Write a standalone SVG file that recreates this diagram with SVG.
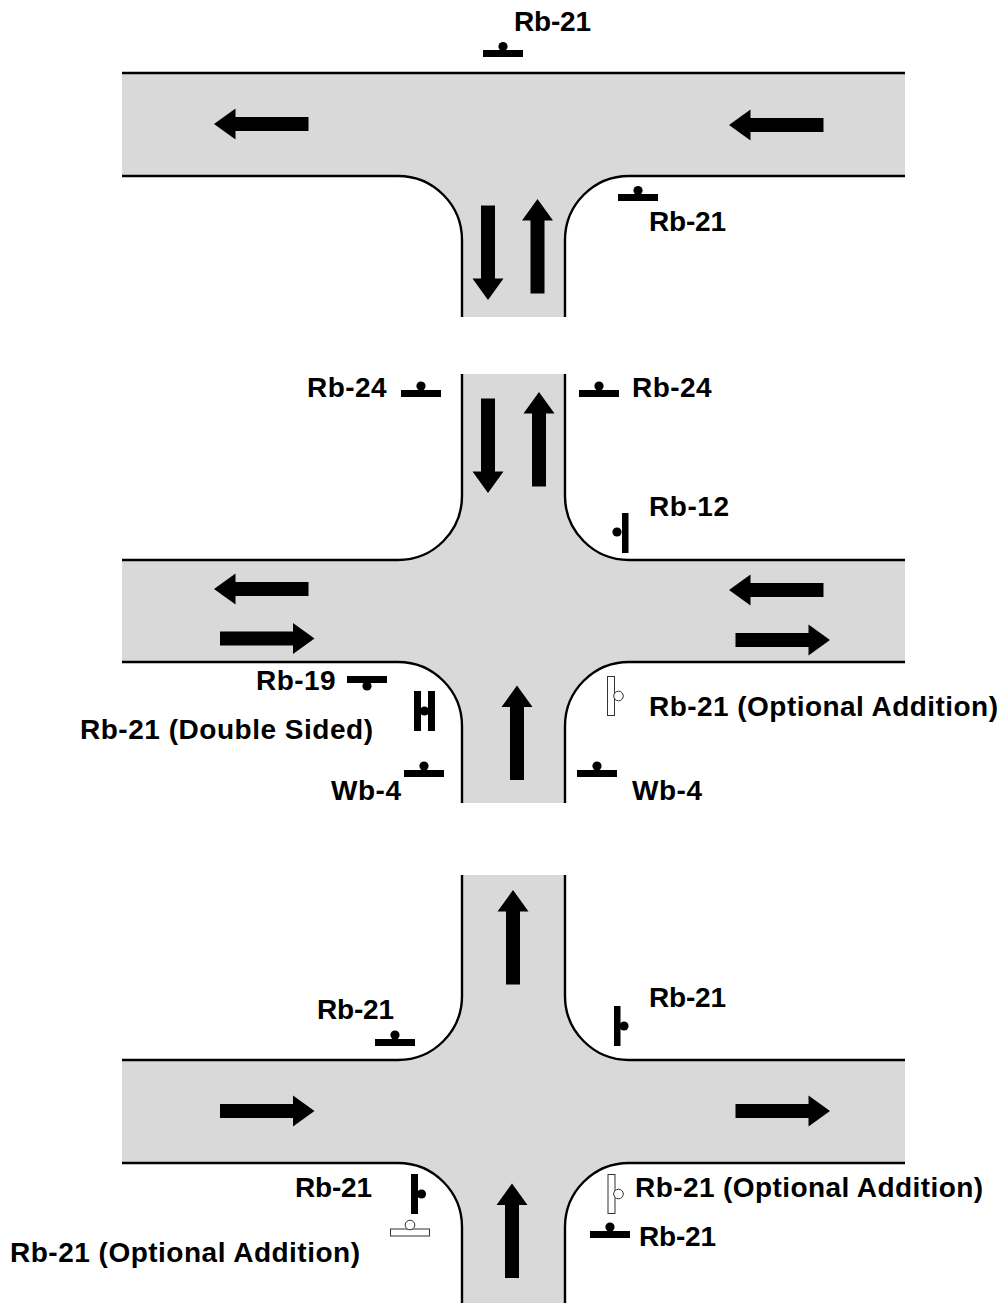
<svg xmlns="http://www.w3.org/2000/svg" width="1005" height="1303" viewBox="0 0 1005 1303">
<style>
.road{fill:#d9d9d9;stroke:none}
.edge{fill:none;stroke:#000;stroke-width:2.4}
.lbl{font-family:"Liberation Sans",Arial,sans-serif;font-weight:bold;font-size:28px;fill:#000}
.s{fill:#000}
.o{fill:#fff;stroke:#333;stroke-width:1}
</style>
<defs>
<path id="arrow" d="M0 0L15.5 21.500H7V94.500H-7V21.500H-15.500Z" fill="#000"/>
</defs>
<rect width="1005" height="1303" fill="#fff"/>
<g id="roads">
<path class="road" d="M122 73H905V176H629A64 64 0 0 0 565 240V317H462V240A64 64 0 0 0 398 176H122Z"/>
<path class="road" d="M462 374H565V496A64 64 0 0 0 629 560H905V662H629A64 64 0 0 0 565 726V803H462V726A64 64 0 0 0 398 662H122V560H398A64 64 0 0 0 462 496Z"/>
<path class="road" d="M462 875H565V996A64 64 0 0 0 629 1060H905V1163H629A64 64 0 0 0 565 1227V1303H462V1227A64 64 0 0 0 398 1163H122V1060H398A64 64 0 0 0 462 996Z"/>
<path class="edge" d="M122 73H905M122 176H398A64 64 0 0 1 462 240V317M905 176H629A64 64 0 0 0 565 240V317"/>
<path class="edge" d="M462 374V496A64 64 0 0 1 398 560H122M565 374V496A64 64 0 0 0 629 560H905M122 662H398A64 64 0 0 1 462 726V803M905 662H629A64 64 0 0 0 565 726V803"/>
<path class="edge" d="M462 875V996A64 64 0 0 1 398 1060H122M565 875V996A64 64 0 0 0 629 1060H905M122 1163H398A64 64 0 0 1 462 1227V1303M905 1163H629A64 64 0 0 0 565 1227V1303"/>
</g>
<g id="connectors">
<use href="#arrow" transform="translate(214 124) rotate(-90)"/>
<use href="#arrow" transform="translate(729 125) rotate(-90)"/>
<use href="#arrow" transform="translate(488 300) rotate(180)"/>
<use href="#arrow" transform="translate(537.500 199)"/>
<use href="#arrow" transform="translate(488 493) rotate(180)"/>
<use href="#arrow" transform="translate(539 392)"/>
<use href="#arrow" transform="translate(214 589) rotate(-90)"/>
<use href="#arrow" transform="translate(314.500 638.500) rotate(90)"/>
<use href="#arrow" transform="translate(729 590) rotate(-90)"/>
<use href="#arrow" transform="translate(830 640) rotate(90)"/>
<use href="#arrow" transform="translate(517 685.500)"/>
<use href="#arrow" transform="translate(513 890)"/>
<use href="#arrow" transform="translate(314.500 1111) rotate(90)"/>
<use href="#arrow" transform="translate(830 1111) rotate(90)"/>
<use href="#arrow" transform="translate(512 1183.500)"/>
</g>
<g id="sign-top"><rect class="s" x="483" y="50" width="40" height="7"/><circle class="s" cx="503" cy="46.500" r="4.600"/><text class="lbl" x="514" y="31" textLength="77">Rb-21</text></g>
<g id="sign-t-right"><rect class="s" x="618" y="194" width="40" height="7"/><circle class="s" cx="638" cy="190.500" r="4.600"/><text class="lbl" x="649" y="231" textLength="77">Rb-21</text></g>
<g id="sign-rb24-left"><rect class="s" x="401" y="390" width="40" height="7"/><circle class="s" cx="421" cy="386" r="4.600"/><text class="lbl" x="307" y="397" textLength="79.500">Rb-24</text></g>
<g id="sign-rb24-right"><rect class="s" x="579" y="390" width="40" height="7"/><circle class="s" cx="599" cy="386" r="4.600"/><text class="lbl" x="632" y="397" textLength="79.500">Rb-24</text></g>
<g id="sign-rb12"><rect class="s" x="622" y="513" width="6.500" height="40"/><circle class="s" cx="617" cy="532" r="4.600"/><text class="lbl" x="649" y="516" textLength="80">Rb-12</text></g>
<g id="sign-rb19"><rect class="s" x="347" y="676" width="40" height="7"/><circle class="s" cx="367" cy="686" r="4.600"/><text class="lbl" x="256" y="690" textLength="79.500">Rb-19</text></g>
<g id="sign-double"><rect class="s" x="414" y="691" width="7" height="40"/><rect class="s" x="428" y="691" width="7" height="40"/><circle class="s" cx="424.500" cy="711" r="4.600"/><text class="lbl" x="80" y="739" textLength="293">Rb-21 (Double Sided)</text></g>
<g id="sign-optional-mid"><rect class="o" x="607.500" y="676.500" width="7" height="39"/><circle class="o" cx="618.500" cy="696" r="4.800"/><text class="lbl" x="649" y="716" textLength="349">Rb-21 (Optional Addition)</text></g>
<g id="sign-wb4-left"><rect class="s" x="404" y="770" width="40" height="7"/><circle class="s" cx="424" cy="766" r="4.600"/><text class="lbl" x="331" y="800" textLength="70">Wb-4</text></g>
<g id="sign-wb4-right"><rect class="s" x="577" y="770" width="40" height="7"/><circle class="s" cx="597" cy="766" r="4.600"/><text class="lbl" x="632" y="800" textLength="70">Wb-4</text></g>
<g id="sign-x-left"><rect class="s" x="375" y="1039" width="40" height="7"/><circle class="s" cx="395" cy="1035" r="4.600"/><text class="lbl" x="317" y="1019" textLength="77">Rb-21</text></g>
<g id="sign-x-right"><rect class="s" x="614" y="1006" width="6.500" height="40"/><circle class="s" cx="624" cy="1026" r="4.600"/><text class="lbl" x="649" y="1007" textLength="77">Rb-21</text></g>
<g id="sign-b-left"><rect class="s" x="411" y="1174" width="7" height="40"/><circle class="s" cx="421.500" cy="1194" r="4.600"/><text class="lbl" x="295" y="1197" textLength="77">Rb-21</text></g>
<g id="sign-b-left-opt"><rect class="o" x="390.500" y="1229" width="39" height="7"/><circle class="o" cx="410" cy="1225" r="4.800"/><text class="lbl" x="10" y="1262" textLength="350">Rb-21 (Optional Addition)</text></g>
<g id="sign-b-right-opt"><rect class="o" x="608" y="1174.500" width="7" height="39"/><circle class="o" cx="618.500" cy="1194" r="4.800"/><text class="lbl" x="635" y="1197" textLength="348">Rb-21 (Optional Addition)</text></g>
<g id="sign-b-right"><rect class="s" x="590" y="1231" width="40" height="7"/><circle class="s" cx="610" cy="1227" r="4.600"/><text class="lbl" x="639" y="1246" textLength="77">Rb-21</text></g>
</svg>
